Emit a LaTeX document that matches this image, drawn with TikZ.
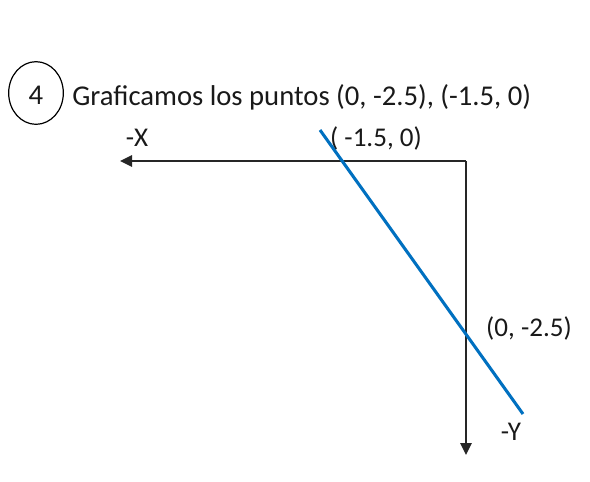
\documentclass[tikz,border=0pt]{standalone}
\usepackage{fontspec}
\setmainfont{Carlito}
\usetikzlibrary{arrows.meta,shapes.geometric}
\definecolor{lineblue}{RGB}{0,112,192}
\tikzset{
  lbl/.style={font=\fontsize{20.3}{23}\selectfont, inner sep=0pt, text=black!90},
  big/.style={font=\fontsize{21.5}{25}\selectfont, inner sep=0pt, text=black!90},
  axis/.style={draw=black!85, line width=1.5pt, -{Triangle[length=9pt,width=8.5pt]}},
  graph/.style={draw=lineblue, line width=2.3pt}
}
\begin{document}
\begin{tikzpicture}[x=0.75pt,y=-0.75pt]
\useasboundingbox (0,0) rectangle (590,482);
\node[draw, ellipse, line width=0.9pt, minimum width=41pt, minimum height=47pt, inner sep=0pt] (circ) at (36,93) {};
\node[big] (four) at (36,95) {4};
\node[big, anchor=west] (title) at (72,97) {Graficamos los puntos (0, -2.5), (-1.5, 0)};
\node[lbl] (xlbl) at (137,138) {-X};
\node[lbl] (ptA) at (376,138) {( -1.5, 0)};
\node[lbl] (ptB) at (529,328) {(0, -2.5)};
\node[lbl] (ylbl) at (511,432) {-Y};
\coordinate (O) at (466,161);
\coordinate (xend) at (120,161);
\coordinate (yend) at (466,455);
\coordinate (L1) at (320,130);
\coordinate (L2) at (523,414);
\draw[axis] (O) -- (xend);
\draw[axis] (O) -- (yend);
\draw[graph] (L1) -- (L2);
\end{tikzpicture}
\end{document}
